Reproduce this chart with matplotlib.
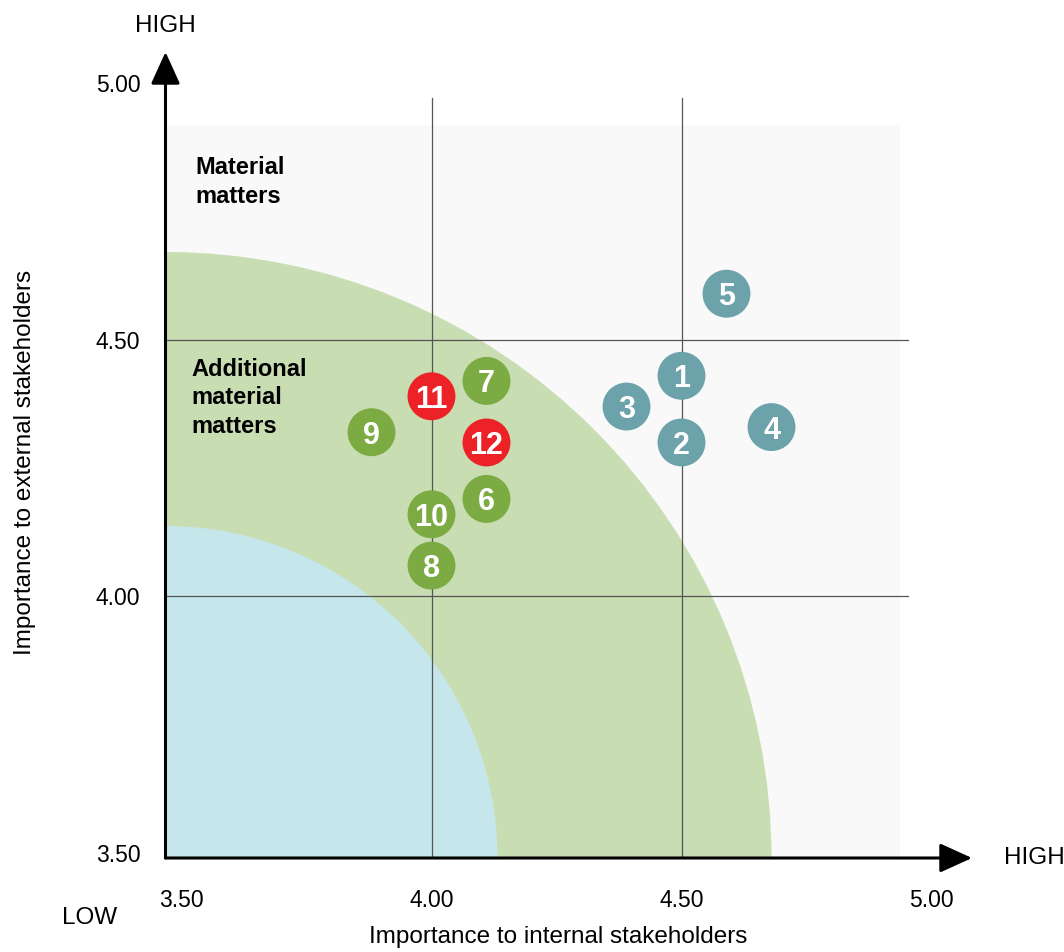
import matplotlib.pyplot as plt
from matplotlib.patches import Ellipse, Rectangle

plt.rcParams["font.family"] = ["Liberation Sans", "DejaVu Sans"]

# matter number, internal score, external score, group
matter_ids = [1, 2, 3, 4, 5, 6, 7, 8, 9, 10, 11, 12]
internal = [4.50, 4.50, 4.39, 4.68, 4.59, 4.11, 4.11, 4.00, 3.88, 4.00, 4.00, 4.11]
external = [4.43, 4.30, 4.37, 4.33, 4.59, 4.19, 4.42, 4.06, 4.32, 4.16, 4.39, 4.30]
groups = ["teal"] * 5 + ["green"] * 5 + ["red"] * 2

tick_values = [3.50, 4.00, 4.50, 5.00]
tick_labels = ["3.50", "4.00", "4.50", "5.00"]

group_colors = {"teal": "#6ca3ab", "green": "#7bab42", "red": "#ec2227"}

W, H = 1064, 952
fig = plt.figure(figsize=(W / 100, H / 100), dpi=100)
# axes box: origin at pixel (165.5, 858), arrow tips at x=972 and y=52
ax = fig.add_axes([165.5 / W, (H - 858) / H, (972 - 165.5) / W, (858 - 52) / H])
x0, y0 = 3.468, 3.49
px_x, px_y = 500.0, 513.0  # pixels per unit
ax.set_xlim(x0, x0 + (972 - 165.5) / px_x)
ax.set_ylim(y0, y0 + (858 - 52) / px_y)

# light background panel
ax.add_patch(Rectangle((x0, y0), 4.937 - x0, 4.919 - y0, facecolor="#f9f9f9",
                       edgecolor="none", zorder=0))
# quarter circles centred on the origin
r_green, r_blue = 606, 332
ax.add_patch(Ellipse((x0, y0), 2 * r_green / px_x, 2 * r_green / px_y,
                     facecolor="#c9ddb3", edgecolor="none", zorder=1))
ax.add_patch(Ellipse((x0, y0), 2 * r_blue / px_x, 2 * r_blue / px_y,
                     facecolor="#c5e6ea", edgecolor="none", zorder=2))

# reference lines
for v in [4.00, 4.50]:
    ax.plot([v, v], [y0, 4.971], color="#555555", lw=0.9, zorder=3)
    ax.plot([x0, 4.953], [v, v], color="#555555", lw=0.9, zorder=3)

# matters
for mid, xv, yv, g in zip(matter_ids, internal, external, groups):
    ax.scatter(xv, yv, s=1190, color=group_colors[g], edgecolors="none", zorder=4)
    ax.text(xv, yv, str(mid), color="white", fontsize=22, fontweight="bold",
            ha="center", va="center_baseline", zorder=5)

ax.text(3.527, 4.807, "Material\nmatters", fontsize=17, fontweight="bold",
        ha="left", va="center", linespacing=1.32, zorder=5)
ax.text(3.519, 4.387, "Additional\nmaterial\nmatters", fontsize=17,
        fontweight="bold", ha="left", va="center", linespacing=1.3, zorder=5)

# axes with arrows
for s in ax.spines.values():
    s.set_visible(False)
arrow = dict(arrowstyle="-|>,head_length=1.1,head_width=0.5", color="black",
             lw=2.2, shrinkA=0, shrinkB=0, mutation_scale=18)
ax.annotate("", xy=(1, 0), xytext=(0, 0), xycoords="axes fraction",
            textcoords="axes fraction", arrowprops=arrow, zorder=6)
ax.annotate("", xy=(0, 1), xytext=(0, 0), xycoords="axes fraction",
            textcoords="axes fraction", arrowprops=arrow, zorder=6)

ax.set_xticks(tick_values, tick_labels)
ax.set_yticks(tick_values, tick_labels)
ax.tick_params(axis="x", length=0, pad=22, labelsize=16.5)
ax.tick_params(axis="y", length=0, pad=18, labelsize=16.5)

fs = 17.5
fig.text(165 / W, 1 - 26 / H, "HIGH", fontsize=fs, ha="center", va="center")
fig.text(1034 / W, 1 - 858 / H, "HIGH", fontsize=fs, ha="center", va="center")
fig.text(90 / W, 1 - 918 / H, "LOW", fontsize=fs, ha="center", va="center")
fig.text(558 / W, 1 - 937 / H, "Importance to internal stakeholders",
         fontsize=fs, ha="center", va="center")
fig.text(25 / W, 1 - 462 / H, "Importance to external stakeholders",
         fontsize=fs, ha="center", va="center", rotation=90)

fig.savefig("out.png", dpi=100)
